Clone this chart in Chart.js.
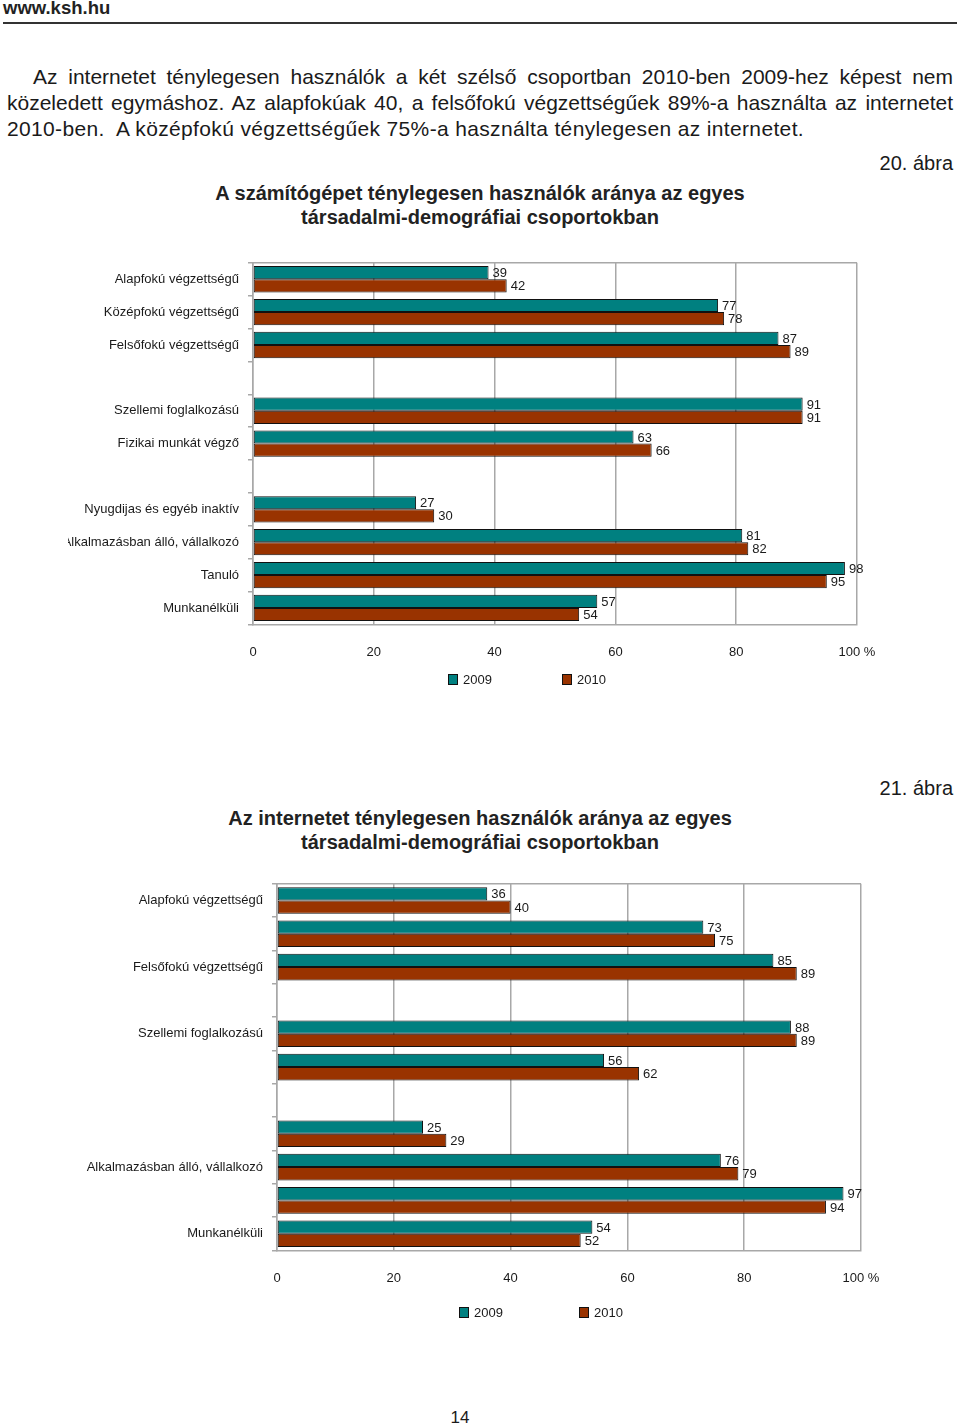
<!DOCTYPE html>
<html lang="hu">
<head>
<meta charset="utf-8">
<title>www.ksh.hu - 20. és 21. ábra</title>
<script src="https://cdn.jsdelivr.net/npm/chart.js@4.4.1/dist/chart.umd.min.js"></script>
<style>
  html, body { margin: 0; padding: 0; background: #fff; }
  body {
    width: 960px; height: 1426px; position: relative; overflow: hidden;
    font-family: "Liberation Sans", Arial, sans-serif; color: #1a1a1a;
  }
  .abs { position: absolute; }
  .site { left: 3px; top: -2px; font-size: 18.5px; font-weight: bold; line-height: 20px; color: #222; }
  .rule { left: 3px; top: 22px; width: 954px; height: 2px; background: #333; }
  .para { left: 7px; width: 946px; font-size: 21px; line-height: 26px; white-space: nowrap; }
  .just { text-align: justify; text-align-last: justify; white-space: normal; }
  .fig { right: 7px; font-size: 20px; line-height: 24px; }
  .title { left: 0; width: 960px; text-align: center; font-size: 20px; font-weight: bold; line-height: 24px; color: #222; }
  .chartbox { position: absolute; }
  .legend { position: absolute; height: 16px; font-family: "Liberation Sans", sans-serif; font-size: 13px; }
  .legend .item { position: absolute; top: 0; white-space: nowrap; line-height: 16px; }
  .legend .sw { display: inline-block; width: 8px; height: 9px; border: 1px solid #111; vertical-align: -1px; margin-right: 5px; }
  .pageno { left: 0; width: 920px; text-align: center; top: 1408px; font-size: 17px; line-height: 20px; }
</style>
</head>
<body>
<div class="abs site">www.ksh.hu</div>
<div class="abs rule"></div>

<div class="abs para just" style="top:64px; padding-left:26px; width:920px;">Az internetet ténylegesen használók a két szélső csoportban 2010-ben 2009-hez képest nem</div>
<div class="abs para just" style="top:90px;">közeledett egymáshoz. Az alapfokúak 40, a felsőfokú végzettségűek 89%-a használta az internetet</div>
<div class="abs para" style="top:116px; letter-spacing:0.35px;">2010-ben.&nbsp; A középfokú végzettségűek 75%-a használta ténylegesen az internetet.</div>

<div class="abs fig" style="top:151px;">20. ábra</div>
<div class="abs title" style="top:181px;">A számítógépet ténylegesen használók aránya az egyes<br>társadalmi-demográfiai csoportokban</div>
<div class="chartbox" style="left:68px; top:246px; width:829px; height:436px;"><canvas id="chart1"></canvas></div>
<div class="legend" id="legend1" style="left:0; top:672px; width:960px;"></div>

<div class="abs fig" style="top:776px;">21. ábra</div>
<div class="abs title" style="top:806px;">Az internetet ténylegesen használók aránya az egyes<br>társadalmi-demográfiai csoportokban</div>
<div class="chartbox" style="left:20px; top:867px; width:881px; height:441px;"><canvas id="chart2"></canvas></div>
<div class="legend" id="legend2" style="left:0; top:1305px; width:960px;"></div>

<div class="abs pageno">14</div>

<script>
(function() {
  'use strict';

  // Categories (empty strings are the spacer rows between groups)
  var groups1 = ['Alapfokú végzettségű', 'Középfokú végzettségű', 'Felsőfokú végzettségű', '',
    'Szellemi foglalkozású', 'Fizikai munkát végző', '',
    'Nyugdijas és egyéb inaktív', 'Alkalmazásban álló, vállalkozó', 'Tanuló', 'Munkanélküli'];
  var groups2 = groups1.slice();

  var seriesNames = ['2009', '2010'];
  var seriesColors = ['#008080', '#993300'];

  // 20. ábra - computer users, %
  var pc2009 = [39, 77, 87, null, 91, 63, null, 27, 81, 98, 57];
  var pc2010 = [42, 78, 89, null, 91, 66, null, 30, 82, 95, 54];

  // 21. ábra - internet users, %
  var net2009 = [36, 73, 85, null, 88, 56, null, 25, 76, 97, 54];
  var net2010 = [40, 75, 89, null, 89, 62, null, 29, 79, 94, 52];

  // x axis ticks
  var xTickValues = [0, 20, 40, 60, 80, 100];
  var xTickLabels = ['0', '20', '40', '60', '80', '100 %'];

  var GRID = '#a8a8a8';
  var TEXT = '#1a1a1a';
  var FONT = '"Liberation Sans", Arial, sans-serif';

  // top border of the plot area
  var frameTop = {
    id: 'frameTop',
    beforeDatasetsDraw: function(chart) {
      var a = chart.chartArea;
      var ctx = chart.ctx;
      ctx.save();
      ctx.strokeStyle = GRID;
      ctx.lineWidth = 1.5;
      ctx.beginPath();
      ctx.moveTo(a.left, a.top);
      ctx.lineTo(a.right, a.top);
      ctx.stroke();
      ctx.restore();
    }
  };

  // value labels at the end of each bar
  var valueLabels = {
    id: 'valueLabels',
    afterDatasetsDraw: function(chart) {
      var ctx = chart.ctx;
      ctx.save();
      ctx.font = '13px ' + FONT;
      ctx.fillStyle = TEXT;
      ctx.textAlign = 'left';
      ctx.textBaseline = 'middle';
      chart.data.datasets.forEach(function(ds, i) {
        chart.getDatasetMeta(i).data.forEach(function(bar, j) {
          var v = ds.data[j];
          if (v === null || v === undefined) return;
          ctx.fillText(String(v), bar.x + 4, bar.y + 1);
        });
      });
      ctx.restore();
    }
  };

  function makeChart(id, labels, a, b, axisWidth, everyOther) {
    var canvas = document.getElementById(id);
    return new Chart(canvas.getContext('2d'), {
      type: 'bar',
      data: {
        labels: labels,
        datasets: [a, b].map(function(values, i) {
          return {
            label: seriesNames[i],
            data: values,
            backgroundColor: seriesColors[i],
            borderColor: '#111',
            borderWidth: 1,
            borderSkipped: false,
            categoryPercentage: 0.8,
            barPercentage: 1.0
          };
        })
      },
      options: {
        indexAxis: 'y',
        responsive: true,
        maintainAspectRatio: false,
        animation: false,
        layout: { padding: { top: 10, right: 40, bottom: 2, left: 0 } },
        plugins: {
          legend: { display: false },
          tooltip: { enabled: false }
        },
        scales: {
          x: {
            min: 0,
            max: 100,
            afterBuildTicks: function(scale) {
              scale.ticks = xTickValues.map(function(v) { return { value: v }; });
            },
            grid: { color: GRID, lineWidth: 1.5, drawTicks: false },
            border: { color: GRID, width: 1.5 },
            ticks: {
              padding: 20,
              color: TEXT,
              maxRotation: 0,
              font: { family: FONT, size: 13 },
              callback: function(value) {
                return xTickLabels[xTickValues.indexOf(value)];
              }
            }
          },
          y: {
            grid: { drawOnChartArea: false, drawTicks: true, tickLength: 5, color: GRID, lineWidth: 1.5, offset: true },
            border: { color: GRID, width: 1.5 },
            afterFit: function(scale) { scale.width = axisWidth; },
            ticks: {
              autoSkip: false,
              padding: 9,
              color: TEXT,
              font: { family: FONT, size: 13 },
              callback: function(value, index) {
                if (everyOther && index % 2 === 1) return '';
                return this.getLabelForValue(value);
              }
            }
          }
        }
      },
      plugins: [frameTop, valueLabels]
    });
  }

  function buildLegend(elId, chart, lefts) {
    var el = document.getElementById(elId);
    chart.data.datasets.forEach(function(ds, i) {
      var item = document.createElement('div');
      item.className = 'item';
      item.style.left = lefts[i] + 'px';
      var sw = document.createElement('span');
      sw.className = 'sw';
      sw.style.background = ds.backgroundColor;
      item.appendChild(sw);
      item.appendChild(document.createTextNode(ds.label));
      el.appendChild(item);
    });
  }

  var c1 = makeChart('chart1', groups1, pc2009, pc2010, 185, false);
  var c2 = makeChart('chart2', groups2, net2009, net2010, 257, true);

  buildLegend('legend1', c1, [448, 562]);
  buildLegend('legend2', c2, [459, 579]);
})();
</script>
</body>
</html>
